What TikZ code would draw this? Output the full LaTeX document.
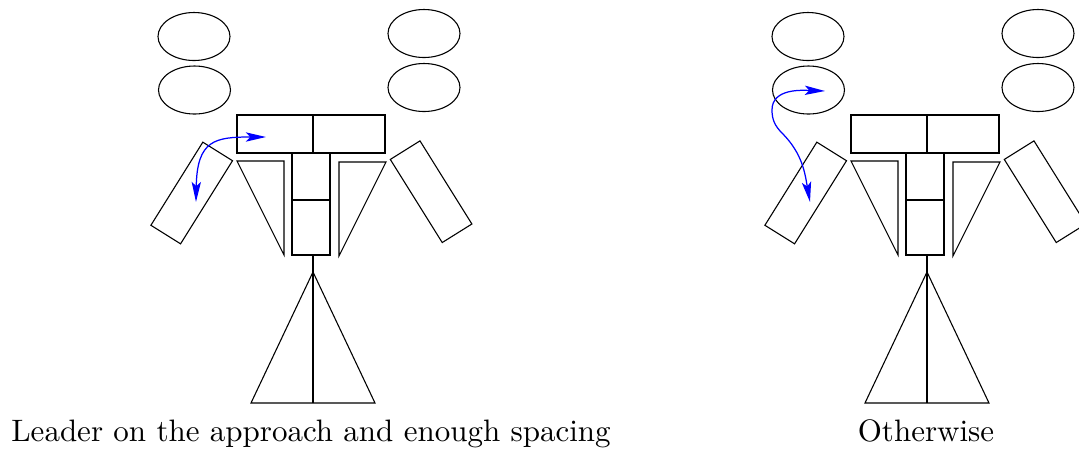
\documentclass[tikz,border=0pt]{standalone}
\usetikzlibrary{arrows.meta}

\begin{document}
\begin{tikzpicture}[
      x=0.3226pt, y=0.3226pt,
      part/.style={draw=black, line width=0.35pt},
      move/.style={
          {Stealth[length=6.5pt, width=3pt, inset=1.4pt]}-{Stealth[length=6.5pt, width=3pt, inset=1.4pt]},
          draw=blue
      },
      caption/.style={anchor=base},
      formation/.pic={
          % heads
          \draw [part] (194,-36.5) ellipse (36 and 24);
          \draw [part] (194.5,-90) ellipse (36 and 24);
          \draw [part] (424,-33.5) ellipse (36 and 24);
          \draw [part] (424,-87.5) ellipse (36 and 24);
          % top bar
          \draw [part] (237,-115) rectangle (385,-153);
          \draw [part] (313,-115) -- (313,-153);
          % column
          \draw [part] (292,-153) rectangle (330,-255);
          \draw [part] (292,-200) -- (330,-200);
          % wings
          \draw [part] (237,-161) -- (284,-161) -- (284,-255) -- cycle;
          \draw [part] (339,-162) -- (386,-162) -- (339,-256) -- cycle;
          % tilted blocks
          \draw [part, shift={(191.7,-193)}, rotate=-32] (-17.5,-49) rectangle (17.5,49);
          \draw [part, shift={(431.1,-191.7)}, rotate=32] (-17.5,-49) rectangle (17.5,49);
          % base
          \draw [part] (313,-255) -- (313,-272);
          \draw [part] (313,-272) -- (251,-403) -- (375,-403) -- cycle;
          \draw [part, line width=0.6pt] (313,-272) -- (313,-403);
      }
  ]
      \useasboundingbox (0,0) rectangle (1079,-449);

      % two formations
      \pic at (0,0) {formation};
      \pic at (614,0) {formation};

      % captions
      \node (lbl-left) [caption] at (311,-441) {Leader on the approach and enough spacing};
      \node (lbl-right) [caption] at (926,-441) {Otherwise};

      % moves
      \coordinate (a-from) at (196,-202);
      \coordinate (a-to) at (266,-137);
      \draw [move] (a-from) .. controls (197,-140) and (215,-137) .. (a-to);

      \coordinate (b-from) at (810,-202);
      \coordinate (b-bend) at (782,-133);
      \coordinate (b-top) at (772,-110);
      \coordinate (b-to) at (825,-91);
      \draw [move] (b-from) to[out=100, in=-45] (b-bend)
          to[out=135, in=-90] (b-top) to[out=90, in=178] (b-to);
\end{tikzpicture}
\end{document}
